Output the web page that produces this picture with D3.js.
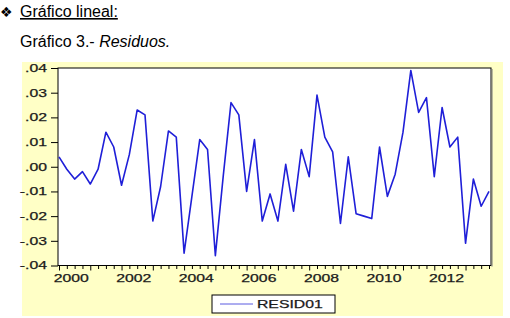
<!DOCTYPE html>
<html>
<head>
<meta charset="utf-8">
<script src="https://cdn.jsdelivr.net/npm/d3@7"></script>
<style>
  body { margin: 0; background: #fff; }
  svg { display: block; font-family: "Liberation Sans", Arial, sans-serif; }
</style>
</head>
<body>
<div id="grafico"></div>
<script>
// Residuos trimestrales 2000Q1 - 2013Q4
const resid01 = [
  0.004, -0.001, -0.005, -0.002, -0.007, -0.001, 0.014, 0.008,
  -0.0075, 0.005, 0.023, 0.021, -0.022, -0.008, 0.0145, 0.012,
  -0.035, -0.012, 0.011, 0.007, -0.036, -0.004, 0.026, 0.021,
  -0.010, 0.011, -0.022, -0.011, -0.022, 0.001, -0.018, 0.007,
  -0.004, 0.029, 0.012, 0.006, -0.023, 0.004, -0.019, -0.020,
  -0.021, 0.008, -0.012, -0.003, 0.014, 0.039, 0.022, 0.028,
  -0.004, 0.024, 0.008, 0.012, -0.031, -0.005, -0.016, -0.010
];
const anioInicio = 2000;
const aniosEtiqueta = [2000, 2002, 2004, 2006, 2008, 2010, 2012];
const ticksY = [0.04, 0.03, 0.02, 0.01, 0.00, -0.01, -0.02, -0.03, -0.04];
const nombreSerie = "RESID01";

const width = 510, height = 318;
const estirar = 1.5; // el texto del gráfico original está ensanchado

const svg = d3.select("#grafico").append("svg")
  .attr("width", width)
  .attr("height", height);

// Títulos
svg.append("text")
  .attr("x", 0).attr("y", 17)
  .style("font-family", "DejaVu Sans")
  .style("font-size", "14px")
  .text("❖");

svg.append("text")
  .attr("x", 20).attr("y", 17)
  .style("font-size", "16px")
  .style("text-decoration", "underline")
  .text("Gráfico lineal:");

const sub = svg.append("text")
  .attr("x", 20).attr("y", 47)
  .style("font-size", "16px");
sub.append("tspan").text("Gráfico 3.- ");
sub.append("tspan").style("font-style", "italic").text("Residuos.");

// Fondo amarillo
svg.append("rect")
  .attr("x", 22).attr("y", 62)
  .attr("width", 481).attr("height", 254)
  .attr("fill", "#ffffc6");

const plot = { left: 58, right: 491, top: 68, bottom: 265.5 };

svg.append("rect")
  .attr("x", plot.left).attr("y", plot.top)
  .attr("width", plot.right - plot.left)
  .attr("height", plot.bottom - plot.top)
  .attr("fill", "#fff")
  .attr("stroke", "#000");

svg.append("line")
  .attr("x1", plot.right + 1).attr("x2", plot.right + 1)
  .attr("y1", plot.top + 1).attr("y2", plot.bottom + 1)
  .attr("stroke", "#777");

// Escalas
const xScale = d3.scaleLinear()
  .domain([0, resid01.length - 1])
  .range([59, 489]);

const yScale = d3.scaleLinear()
  .domain([-0.04, 0.04])
  .range([plot.bottom, plot.top]);

function ensanchar(sel) {
  sel.each(function () {
    const w = this.getComputedTextLength();
    d3.select(this)
      .attr("textLength", w * estirar)
      .attr("lengthAdjust", "spacingAndGlyphs");
  });
}

const fmt = v => {
  const s = d3.format(".2f")(Math.abs(v)).slice(1);
  return (v < -1e-9 ? "-" : "") + s;
};

// Eje Y
const ejeY = svg.append("g")
  .attr("transform", `translate(${plot.left}, 0)`)
  .call(d3.axisLeft(yScale).tickValues(ticksY).tickSize(7).tickPadding(4).tickFormat(fmt));
ejeY.select(".domain").remove();
ejeY.selectAll("text")
  .style("font-family", "Liberation Sans, Arial, sans-serif")
  .style("font-size", "10.5px")
  .attr("fill", "#1a1a1a")
  .attr("stroke", "#1a1a1a")
  .attr("stroke-width", 0.25)
  .call(ensanchar);

// Eje X: marcas trimestrales
const ejeX = svg.append("g")
  .attr("transform", `translate(0, ${plot.bottom})`)
  .call(d3.axisBottom(xScale).tickValues(d3.range(resid01.length)).tickSize(4).tickFormat(""));
ejeX.select(".domain").remove();
ejeX.selectAll(".tick line")
  .attr("y2", (d) => d % 4 === 0 ? 5 : 3.5);

const etiquetasX = svg.append("g")
  .attr("transform", `translate(0, ${plot.bottom})`)
  .call(d3.axisBottom(xScale)
    .tickValues(aniosEtiqueta.map(a => (a - anioInicio) * 4 + 1.5))
    .tickSize(0)
    .tickPadding(9)
    .tickFormat(d => String(anioInicio + Math.round((d - 1.5) / 4))));
etiquetasX.select(".domain").remove();
etiquetasX.selectAll("text")
  .style("font-family", "Liberation Sans, Arial, sans-serif")
  .style("font-size", "10.5px")
  .attr("fill", "#1a1a1a")
  .attr("stroke", "#1a1a1a")
  .attr("stroke-width", 0.25)
  .call(ensanchar);

// Línea de residuos
const linea = d3.line()
  .x((d, i) => xScale(i))
  .y(d => yScale(d));

svg.append("path")
  .datum(resid01)
  .attr("fill", "none")
  .attr("stroke", "#1f1fd8")
  .attr("stroke-width", 1.6)
  .attr("stroke-linejoin", "round")
  .attr("d", linea);

// Leyenda
const leyenda = svg.append("g");
leyenda.append("rect")
  .attr("x", 212).attr("y", 295)
  .attr("width", 123).attr("height", 18)
  .attr("fill", "#fff")
  .attr("stroke", "#000");
leyenda.append("line")
  .attr("x1", 220).attr("x2", 253)
  .attr("y1", 304).attr("y2", 304)
  .attr("stroke", "#5a5ae0");
leyenda.append("text")
  .attr("x", 257).attr("y", 308)
  .style("font-size", "10.5px")
  .attr("fill", "#1a1a1a")
  .attr("stroke", "#1a1a1a")
  .attr("stroke-width", 0.25)
  .text(nombreSerie)
  .call(ensanchar);
</script>
</body>
</html>
